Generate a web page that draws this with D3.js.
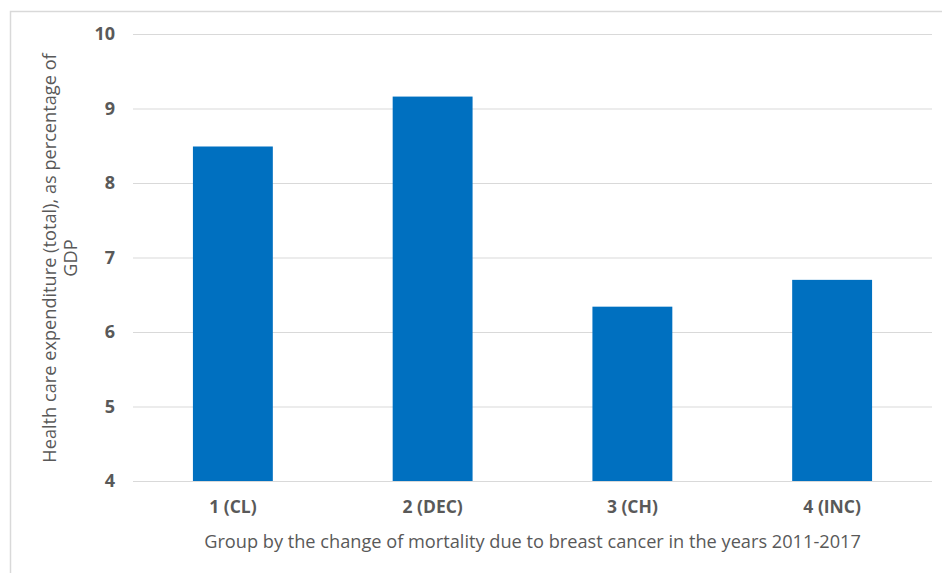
<!DOCTYPE html>
<html>
<head>
<meta charset="utf-8">
<script src="https://cdn.jsdelivr.net/npm/d3@7"></script>
<style>
  html, body { margin: 0; padding: 0; background: #fff; }
  svg { display: block; font-family: "Open Sans", sans-serif; }
</style>
</head>
<body>
<svg id="chart" width="942" height="573"></svg>
<script>
// Health care expenditure by mortality-change group
const categories = ["1 (CL)", "2 (DEC)", "3 (CH)", "4 (INC)"];
const values = [8.49, 9.16, 6.34, 6.70];
const yTicks = [4, 5, 6, 7, 8, 9, 10];
const xTitle = "Group by the change of mortality due to breast cancer in the years 2011-2017";
const yTitleLines = ["Health care expenditure (total), as percentage of", "GDP"];

const W = 942, H = 573;
const margin = { top: 34, right: 10, bottom: 92, left: 133 };
const innerW = W - margin.left - margin.right;
const innerH = H - margin.top - margin.bottom;
const textColor = "#595959";
const fontFamily = "'Open Sans', sans-serif";

const svg = d3.select("#chart");

// chart frame (only top and left edges fall inside the canvas)
svg.append("path")
  .attr("d", `M10.5,${H} L10.5,11.5 L${W},11.5`)
  .attr("fill", "none")
  .attr("stroke", "#d9d9d9")
  .attr("stroke-width", 1.5);

const g = svg.append("g").attr("transform", `translate(${margin.left},${margin.top})`);

const x = d3.scaleBand().domain(categories).range([0, innerW]).paddingInner(0.6).paddingOuter(0.3);
const y = d3.scaleLinear().domain([4, 10]).range([innerH, 0]);

// gridlines + y tick labels
const yAxis = d3.axisLeft(y).tickValues(yTicks).tickSize(-innerW).tickPadding(18).tickFormat(d3.format("d"));
const yg = g.append("g").call(yAxis);
yg.select(".domain").remove();
yg.selectAll(".tick line").attr("stroke", "#d9d9d9").attr("stroke-width", 1);
yg.selectAll(".tick text")
  .attr("fill", textColor)
  .style("font-size", "18px")
  .style("font-weight", "bold")
  .style("font-family", fontFamily);

// bars
g.selectAll("rect.bar")
  .data(categories)
  .join("rect")
  .attr("class", "bar")
  .attr("x", d => x(d))
  .attr("width", x.bandwidth())
  .attr("y", (d, i) => y(values[i]))
  .attr("height", (d, i) => y(4) - y(values[i]))
  .attr("fill", "#0070C0");

// x axis category labels
const xAxis = d3.axisBottom(x).tickSize(0).tickPadding(20);
const xg = g.append("g").attr("transform", `translate(0,${innerH})`).call(xAxis);
xg.select(".domain").remove();
xg.selectAll(".tick text")
  .attr("fill", textColor)
  .style("font-size", "17.5px")
  .style("font-weight", "bold")
  .style("font-family", fontFamily);

// x axis title
svg.append("text")
  .attr("x", margin.left + innerW / 2)
  .attr("y", 548)
  .attr("text-anchor", "middle")
  .attr("fill", textColor)
  .style("font-size", "18.2px")
  .text(xTitle);

// y axis title (two lines, rotated)
const yt = svg.append("text")
  .attr("transform", `translate(56,258) rotate(-90)`)
  .attr("text-anchor", "middle")
  .attr("fill", textColor)
  .style("font-size", "18.2px");
yTitleLines.forEach((line, i) => {
  yt.append("tspan").attr("x", 0).attr("dy", i === 0 ? 0 : 21).text(line);
});
</script>
</body>
</html>
